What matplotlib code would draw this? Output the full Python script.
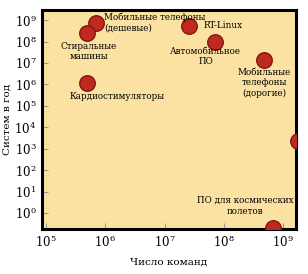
import matplotlib
matplotlib.use("Agg")
import matplotlib.pyplot as plt
import numpy as np

plt.rcParams["mathtext.fontset"] = "dejavuserif"

# log10 значения
names = ["Мобильные телефоны\n(дешевые)", "Стиральные\nмашины", "Кардиостимуляторы",
         "RT-Linux", "Автомобильное\nПО", "Мобильные\nтелефоны\n(дорогие)",
         "Авиационная\nнавигация", "ПО для космических\nполетов"]
log_cmd = [5.85, 5.69, 5.69, 7.42, 7.85, 8.68, 9.25, 8.83]
log_sys = [8.88, 8.41, 6.07, 8.74, 7.99, 7.15, 3.36, -0.70]

# смещения подписей (пиксели) и выравнивание
offs = [(8, 0), (2, -9), (-17, -14), (14, 0), (-9, -5), (0, -8), (-53, -1), (-28, 22)]
has = ["left", "center", "left", "left", "center", "center", "center", "center"]
vas = ["center", "top", "center", "center", "top", "top", "center", "center"]

xt = [5, 6, 7, 8, 9]
yt = list(range(0, 10))

fig = plt.figure(figsize=(3.08, 2.74), dpi=100)
ax = fig.add_axes([42/308, 1-229/274, 254/308, 219/274])
ax.set_facecolor("#fbe2a3")

ax.scatter(log_cmd, log_sys, s=125, c="#c1281f", edgecolors="#7c1a12",
           linewidths=1.0, zorder=3, clip_on=True)

for n, x, y, o, h, v in zip(names, log_cmd, log_sys, offs, has, vas):
    ax.annotate(n, (x, y), xytext=o, textcoords="offset pixels", ha=h, va=v,
                fontsize=7, family="DejaVu Serif", stretch="condensed",
                linespacing=1.25, zorder=4)

ax.set_xlim(4.93, 9.22)
ax.set_ylim(-0.75, 9.47)
ax.set_xticks(xt)
ax.set_xticklabels([r"$10^{%d}$" % t for t in xt])
ax.set_yticks(yt)
ax.set_yticklabels([r"$10^{%d}$" % t for t in yt])
ax.tick_params(direction="in", length=4, color="#999999", labelsize=8.5, pad=4)

for s in ax.spines.values():
    s.set_linewidth(2.2)
    s.set_color("black")

ax.set_xlabel("Число команд", family="DejaVu Serif", fontsize=7.5, labelpad=5)
ax.set_ylabel("Систем в год", family="DejaVu Serif", fontsize=7.5, labelpad=2)

fig.savefig("out.png", dpi=100)
